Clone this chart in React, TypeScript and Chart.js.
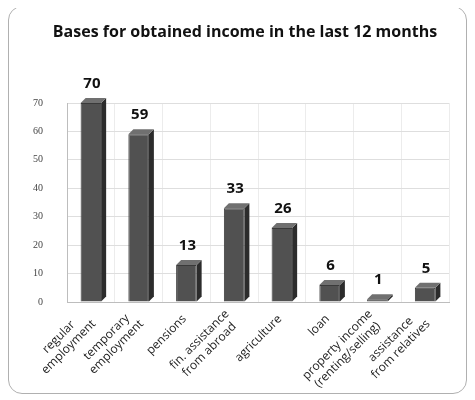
import React, { useEffect, useRef } from "react";
import { Chart, registerables } from "chart.js";

Chart.register(...registerables);

const categories: string[][] = [
  ["regular", "employment"],
  ["temporary", "employment"],
  ["pensions"],
  ["fin. assistance", "from abroad"],
  ["agriculture"],
  ["loan"],
  ["property income", "(renting/selling)"],
  ["assistance", "from relatives"],
];
const values: number[] = [70, 59, 13, 33, 26, 6, 1, 5];
const yTicks: number[] = [0, 10, 20, 30, 40, 50, 60, 70];
const titleText = "Bases for obtained income in the last 12 months";

const depthPlugin = {
  id: "depth3d",
  beforeDatasetsDraw(chart: any) {
    const ctx = chart.ctx;
    const meta = chart.getDatasetMeta(0);
    const d = 5;
    ctx.save();
    meta.data.forEach((bar: any) => {
      const { x, y, base, width } = bar.getProps(["x", "y", "base", "width"], true);
      const l = x - width / 2;
      const r = x + width / 2;
      ctx.fillStyle = "#2c2c2c";
      ctx.beginPath();
      ctx.moveTo(r, y);
      ctx.lineTo(r + d, y - d);
      ctx.lineTo(r + d, base - d);
      ctx.lineTo(r, base);
      ctx.closePath();
      ctx.fill();
      ctx.fillStyle = "#707070";
      ctx.beginPath();
      ctx.moveTo(l, y);
      ctx.lineTo(l + d, y - d);
      ctx.lineTo(r + d, y - d);
      ctx.lineTo(r, y);
      ctx.closePath();
      ctx.fill();
    });
    ctx.restore();
  },
  afterDatasetsDraw(chart: any) {
    const ctx = chart.ctx;
    const meta = chart.getDatasetMeta(0);
    ctx.save();
    ctx.font = "bold 15px 'Open Sans'";
    ctx.fillStyle = "#111";
    ctx.textAlign = "center";
    ctx.textBaseline = "bottom";
    meta.data.forEach((bar: any, i: number) => {
      const { x, y } = bar.getProps(["x", "y"], true);
      ctx.fillText(String(values[i]), x + 1, y - 12);
    });
    ctx.restore();
  },
  afterDraw(chart: any) {
    const ctx = chart.ctx;
    const xs = chart.scales.x;
    const top = chart.chartArea.bottom;
    const lh = 14;
    ctx.save();
    ctx.font = "bold 16px 'Open Sans'";
    ctx.fillStyle = "#111";
    ctx.textAlign = "center";
    ctx.textBaseline = "middle";
    ctx.fillText(titleText, 236, 25);
    ctx.font = "12px 'Open Sans'";
    ctx.fillStyle = "#222";
    categories.forEach((lines, i) => {
      const px = xs.getPixelForTick(i);
      const widths = lines.map((s) => ctx.measureText(s).width);
      const maxW = Math.max(...widths);
      ctx.save();
      ctx.translate(px - 2, top + 15);
      ctx.rotate(-Math.PI / 4);
      const n = lines.length;
      lines.forEach((s, j) => {
        ctx.fillText(s, -maxW / 2, (j - (n - 1) / 2) * lh);
      });
      ctx.restore();
    });
    ctx.restore();
  },
};

export default function App() {
  const ref = useRef<HTMLCanvasElement | null>(null);
  useEffect(() => {
    if (!ref.current) return;
    const chart = new Chart(ref.current, {
      type: "bar",
      data: {
        labels: categories,
        datasets: [
          {
            data: values,
            backgroundColor: "#515151",
            borderColor: "#3a3a3a",
            borderWidth: 1,
            categoryPercentage: 1,
            barPercentage: 0.43,
          },
        ],
      },
      options: {
        animation: false,
        responsive: false,
        layout: { padding: { top: 96, left: 8, right: 17, bottom: 11 } },
        plugins: {
          legend: { display: false },
          tooltip: { enabled: false },
          title: { display: false },
        },
        scales: {
          x: {
            grid: { display: true, color: "#ececec", drawTicks: false, offset: true },
            border: { color: "#bdbdbd" },
            ticks: { display: false },
            afterFit: (scale: any) => {
              scale.height = 80;
            },
          },
          y: {
            min: 0,
            max: 70,
            afterBuildTicks: (scale: any) => {
              scale.ticks = yTicks.map((v) => ({ value: v }));
            },
            grid: { color: "#dedede", drawTicks: false },
            border: { color: "#bdbdbd" },
            ticks: {
              padding: 24,
              color: "#444",
              font: { family: "'Liberation Serif'", size: 10 },
            },
            afterFit: (scale: any) => {
              scale.width = 50;
            },
          },
        },
      },
      plugins: [depthPlugin],
    });
    return () => chart.destroy();
  }, []);
  return (
    <div
      style={{
        width: 459,
        height: 388,
        border: "1px solid #b0b0b0",
        borderRadius: 14,
        boxSizing: "border-box",
        marginTop: -2,
        background: "#fff",
        overflow: "hidden",
      }}
    >
      <canvas ref={ref} width={457} height={386} style={{ display: "block" }} />
    </div>
  );
}
